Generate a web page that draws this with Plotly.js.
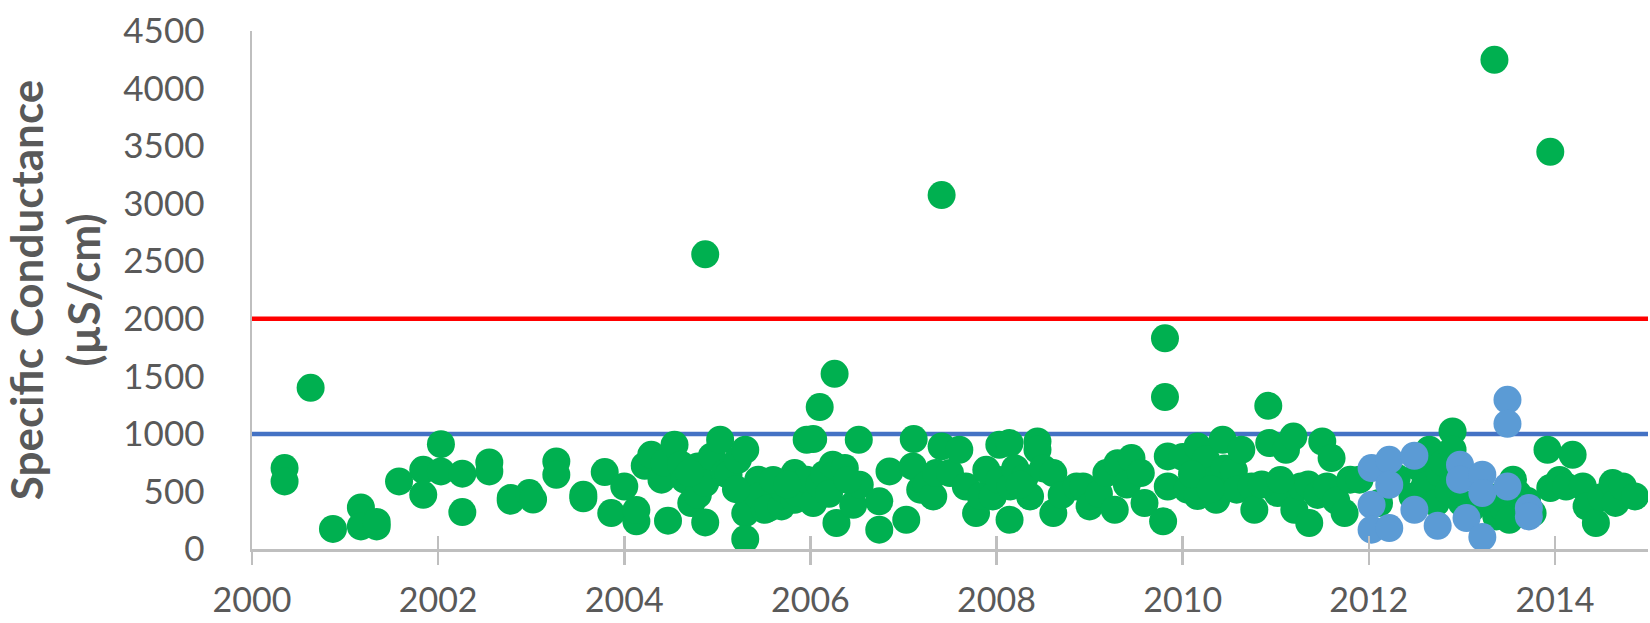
<!DOCTYPE html>
<html>
<head>
<meta charset="utf-8">
<script src="https://cdn.plot.ly/plotly-3.0.1.min.js"></script>
<style>
  html, body { margin: 0; padding: 0; background: #ffffff; }
  #chart { width: 1650px; height: 623px; }
</style>
</head>
<body>
<div id="chart"></div>
<script>
// ---- Data ----
const greenYears = [
  2000.35, 2000.35, 2000.63, 2000.87, 2001.17, 2001.17, 2001.34, 2001.34, 2001.58, 2001.84,
  2001.84, 2002.03, 2002.03, 2002.26, 2002.26, 2002.55, 2002.55, 2002.78, 2002.78, 2002.98,
  2003.02, 2003.27, 2003.27, 2003.56, 2003.56, 2003.79, 2003.86, 2004.00, 2004.13, 2004.13,
  2004.22, 2004.29, 2004.40, 2004.43, 2004.47, 2004.54, 2004.61, 2004.65, 2004.72, 2004.79,
  2004.79, 2004.87, 2004.87, 2004.87, 2004.94, 2005.03, 2005.08, 2005.12, 2005.22, 2005.30,
  2005.30, 2005.30, 2005.44, 2005.44, 2005.51, 2005.55, 2005.69, 2005.71, 2005.83, 2005.83,
  2005.86, 2005.96, 2005.96, 2006.03, 2006.03, 2006.10, 2006.10, 2006.15, 2006.20, 2006.24,
  2006.26, 2006.28, 2006.37, 2006.46, 2006.52, 2006.53, 2006.74, 2006.74, 2006.85, 2007.03,
  2007.10, 2007.11, 2007.18, 2007.25, 2007.32, 2007.35, 2007.41, 2007.41, 2007.50, 2007.60,
  2007.67, 2007.78, 2007.83, 2007.89, 2007.96, 2008.03, 2008.03, 2008.14, 2008.14, 2008.15,
  2008.20, 2008.30, 2008.36, 2008.44, 2008.44, 2008.50, 2008.61, 2008.61, 2008.70, 2008.86,
  2008.93, 2009.00, 2009.10, 2009.18, 2009.27, 2009.30, 2009.40, 2009.45, 2009.55, 2009.59,
  2009.79, 2009.81, 2009.81, 2009.84, 2009.84, 2010.00, 2010.05, 2010.16, 2010.16, 2010.25,
  2010.34, 2010.36, 2010.43, 2010.45, 2010.55, 2010.58, 2010.63, 2010.74, 2010.77, 2010.92,
  2010.93, 2011.02, 2011.11, 2011.19, 2011.20, 2011.27, 2011.35, 2011.36, 2011.45, 2011.50,
  2011.55, 2011.60, 2011.65, 2011.74, 2011.80, 2011.90, 2012.11, 2012.30, 2012.47, 2012.55,
  2012.60, 2012.65, 2012.72, 2012.76, 2012.80, 2012.86, 2012.90, 2012.90, 2013.00, 2013.10,
  2013.30, 2013.35, 2013.37, 2013.45, 2013.51, 2013.55, 2013.60, 2013.70, 2013.76, 2013.92,
  2013.95, 2013.95, 2014.05, 2014.12, 2014.19, 2014.30, 2014.34, 2014.44, 2014.50, 2014.62,
  2014.65, 2014.73, 2014.86,
  2005.60, 2005.75, 2006.40, 2010.10, 2010.30, 2010.85, 2011.05, 2005.20, 2004.70, 2008.25
];
const greenValues = [
  703, 587, 1400, 174, 361, 196, 196, 235, 587, 688,
  471, 911, 674, 654, 321, 752, 674, 443, 420, 486,
  430, 760, 645, 471, 440, 668, 312, 543, 240, 338,
  723, 818, 602, 750, 246, 905, 732, 602, 399, 717,
  470, 231, 573, 2560, 804, 949, 660, 645, 775, 862,
  312, 87, 602, 457, 341, 356, 370, 520, 660, 428,
  486, 949, 602, 955, 399, 558, 1233, 650, 480, 732,
  1522, 226, 703, 384, 949, 558, 168, 414, 674, 254,
  717, 955, 515, 560, 457, 660, 891, 3075, 660, 862,
  543, 312, 460, 688, 457, 905, 600, 920, 254, 543,
  700, 620, 457, 934, 862, 700, 312, 660, 470, 543,
  543, 370, 480, 660, 341, 746, 560, 790, 660, 399,
  240, 1830, 1320, 804, 543, 800, 515, 891, 460, 780,
  602, 428, 949, 700, 680, 515, 862, 543, 341, 1244,
  920, 486, 862, 977, 341, 543, 560, 226, 470, 934,
  543, 790, 420, 312, 602, 602, 399, 620, 457, 700,
  550, 862, 400, 660, 750, 500, 1021, 862, 400, 350,
  450, 4250, 283, 350, 254, 602, 480, 420, 312, 862,
  530, 3450, 600, 543, 818, 543, 370, 226, 450, 573,
  400, 543, 457,
  600, 560, 600, 650, 520, 560, 600, 520, 660, 560
];
const blueYears = [
  2012.03, 2012.03, 2012.03, 2012.22, 2012.22, 2012.22, 2012.49, 2012.49, 2012.74, 2012.98,
  2012.98, 2013.05, 2013.22, 2013.22, 2013.22, 2013.49, 2013.49, 2013.49, 2013.72, 2013.72
];
const blueValues = [
  703, 384, 168, 775, 558, 182, 810, 341, 202, 732,
  602, 269, 645, 486, 104, 1296, 1088, 543, 356, 283
];
const limitYears = [2000, 2015];
const upperLimit = [2000, 2000];
const lowerLimit = [1000, 1000];
const xTickVals = [2000, 2002, 2004, 2006, 2008, 2010, 2012, 2014];
const xTickText = ['2000', '2002', '2004', '2006', '2008', '2010', '2012', '2014'];
const yTickVals = [0, 500, 1000, 1500, 2000, 2500, 3000, 3500, 4000, 4500];

// ---- Styles ----
const FONT = 'Lato, "Open Sans", "DejaVu Sans", sans-serif';
const TEXT = '#595959';
const AXIS = '#bfbfbf';

const traces = [
  {
    x: limitYears, y: upperLimit, type: 'scatter', mode: 'lines',
    line: { color: '#ff0000', width: 4.5 }, hoverinfo: 'skip', showlegend: false
  },
  {
    x: limitYears, y: lowerLimit, type: 'scatter', mode: 'lines',
    line: { color: '#4472c4', width: 4.5 }, hoverinfo: 'skip', showlegend: false
  },
  {
    x: greenYears, y: greenValues, type: 'scatter', mode: 'markers',
    marker: { color: '#00b050', size: 28, line: { width: 0 } }, showlegend: false
  },
  {
    x: blueYears, y: blueValues, type: 'scatter', mode: 'markers',
    marker: { color: '#5b9bd5', size: 28, line: { width: 0 } }, showlegend: false
  },
  // invisible trace on the overlay axis used to draw the inner half of the cross tick marks
  {
    x: limitYears, y: lowerLimit, xaxis: 'x2', type: 'scatter', mode: 'markers',
    marker: { opacity: 0 }, hoverinfo: 'skip', showlegend: false
  }
];

const layout = {
  width: 1650, height: 623,
  paper_bgcolor: '#ffffff', plot_bgcolor: '#ffffff',
  margin: { l: 252, r: 2, t: 31, b: 74 },
  showlegend: false,
  font: { family: FONT, color: TEXT },
  xaxis: {
    range: [2000, 2015],
    tickmode: 'array', tickvals: xTickVals, ticktext: xTickText,
    showgrid: false, zeroline: false,
    showline: true, linecolor: AXIS, linewidth: 2.5,
    ticks: 'outside', ticklen: 13, tickwidth: 2.5, tickcolor: AXIS,
    ticklabelstandoff: 7,
    tickfont: { family: FONT, size: 34, color: TEXT }
  },
  xaxis2: {
    overlaying: 'x', range: [2000, 2015],
    tickmode: 'array', tickvals: xTickVals, showticklabels: false,
    showgrid: false, zeroline: false, showline: false,
    ticks: 'inside', ticklen: 13, tickwidth: 2.5, tickcolor: AXIS
  },
  yaxis: {
    range: [0, 4500],
    tickmode: 'array', tickvals: yTickVals,
    showgrid: false, zeroline: false,
    showline: true, linecolor: AXIS, linewidth: 2.5,
    ticks: '', ticklabelstandoff: 38,
    tickfont: { family: FONT, size: 35, color: TEXT }
  ,
    title: {
      text: '<b>Specific Conductance</b><br><b>(µS/cm)</b>',
      font: { family: FONT, size: 44, color: TEXT },
      standoff: 16
    }
  }
};

Plotly.newPlot('chart', traces, layout, { staticPlot: true, displayModeBar: false });
</script>
</body>
</html>
